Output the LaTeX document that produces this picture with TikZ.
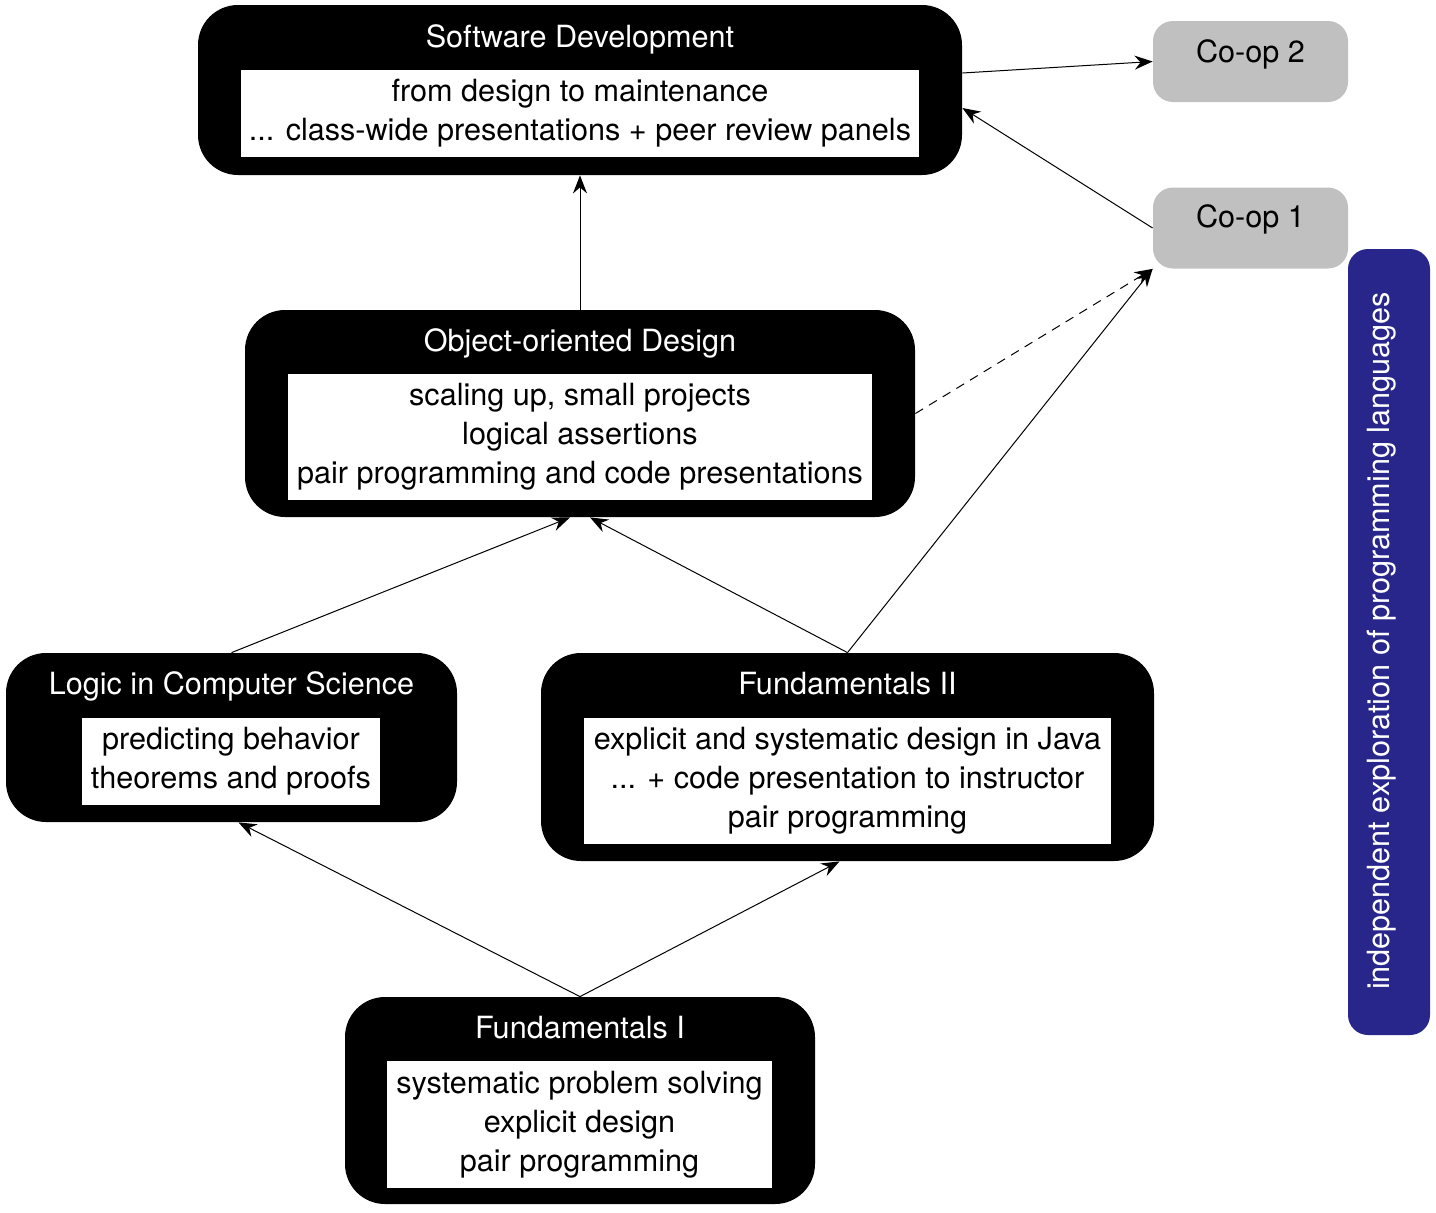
\documentclass[tikz,border=0pt]{standalone}
\usepackage{fontspec}
\setmainfont{TeX Gyre Heros}
\usepackage{xcolor}
\usetikzlibrary{arrows.meta}
\definecolor{coopgray}{RGB}{192,192,192}
\definecolor{barblue}{RGB}{40,38,138}

\begin{document}
\begin{tikzpicture}[x=0.5pt,y=-0.5pt,
	every node/.style={font=\fontsize{15.3pt}{19.5pt}\selectfont},
	course/.style={fill=black, rounded corners=20pt, inner sep=0},
	heading/.style={text=white, inner sep=0, text height=11pt, text depth=0.5pt},
	topics/.style={fill=white, align=center, inner sep=0},
	coop/.style={fill=coopgray, rounded corners=10pt, inner sep=0, minimum width=97.5pt, minimum height=40.5pt},
	cooptext/.style={inner sep=0, text height=11pt, text depth=0.5pt},
	link/.style={line width=0.5pt, -{Stealth[length=9pt,width=7pt,inset=3pt]}}]
	\useasboundingbox (0,0) rectangle (1436,1212);

	% (courses)
	\node[course, minimum width=382pt, minimum height=85pt] (sd) at (580,90) {};
	\node[heading] (sdtitle) at (580,37) {Software Development};
	\node[topics, minimum width=339pt, minimum height=43.5pt] (sdbody) at (580,113.5) {from design to maintenance\\... class-wide presentations + peer review panels};

	\node[course, minimum width=335pt, minimum height=103.5pt] (ood) at (580,413.5) {};
	\node[heading] (oodtitle) at (580,341) {Object-oriented Design};
	\node[topics, minimum width=292pt, minimum height=63pt] (oodbody) at (580,437) {scaling up, small projects\\logical assertions\\pair programming and code presentations};

	\node[course, minimum width=225.5pt, minimum height=84.5pt] (logic) at (231.5,737.5) {};
	\node[heading] (logictitle) at (231.5,684) {Logic in Computer Science};
	\node[topics, minimum width=149pt, minimum height=43.5pt] (logicbody) at (231,761.5) {predicting behavior\\theorems and proofs};

	\node[course, minimum width=306.5pt, minimum height=104pt] (ftwo) at (847.5,757) {};
	\node[heading] (ftwotitle) at (847.5,684) {Fundamentals II};
	\node[topics, minimum width=263.5pt, minimum height=63pt] (ftwobody) at (847.5,781) {explicit and systematic design in Java\\... + code presentation to instructor\\pair programming};

	\node[course, minimum width=235pt, minimum height=103.5pt] (fone) at (580,1100.5) {};
	\node[heading] (fonetitle) at (580,1028) {Fundamentals I};
	\node[topics, minimum width=192.5pt, minimum height=63.5pt] (fonebody) at (579.5,1124.5) {systematic problem solving\\explicit design\\pair programming};

	% (co-ops)
	\node[coop] (coop2) at (1250.5,61.5) {};
	\node[cooptext] (cooptwotext) at (1250.5,52) {Co-op 2};
	\node[coop] (coop1) at (1250.5,228) {};
	\node[cooptext] (cooponetext) at (1250.5,217) {Co-op 1};

	% (languages)
	\node[fill=barblue, rounded corners=10pt, minimum width=41pt, minimum height=393pt] (lang) at (1389,642) {};
	\node[text=white, rotate=90] (langtext) at (1382,641) {independent exploration of programming languages};

	% (prerequisites)
	\draw[link] ([yshift=8.5pt]sd.east) -- (coop2.west);
	\draw[link] (coop1.west) -- ([yshift=-9pt]sd.east);
	\draw[link] (ood.north) -- (sd.south);
	\draw[link, dash pattern=on 4.5pt off 3.5pt] (ood.east) -- (coop1.south west);
	\draw[link] (ftwo.north) -- (coop1.south west);
	\draw[link] (logic.north) -- ([xshift=-5pt]ood.south);
	\draw[link] (ftwo.north) -- ([xshift=5pt]ood.south);
	\draw[link] (fone.north) -- ([xshift=3.5pt]logic.south);
	\draw[link] (fone.north) -- ([xshift=-4pt]ftwo.south);

\end{tikzpicture}
\end{document}
